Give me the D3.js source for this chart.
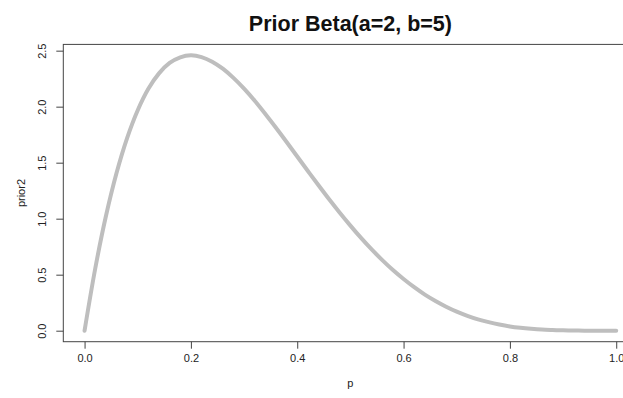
<!DOCTYPE html>
<html lang="en">
<head>
	<meta charset="UTF-8" />
	<script src="https://d3js.org/d3.v7.min.js"></script>
	<title>Prior Beta(a=2, b=5)</title>
	<style>
		body { margin: 0; background: #fff; }
		svg text { font-family: "Liberation Sans", Arial, Helvetica, sans-serif; fill: #222; }
	</style>
</head>
<body>
	<script>
		var w = 623;
		var h = 398;

		// p values and prior density
		var pValues = [0, 0.02, 0.04, 0.06, 0.08, 0.10, 0.12, 0.14, 0.16, 0.18,
			0.20, 0.22, 0.24, 0.26, 0.28, 0.30, 0.32, 0.34, 0.36, 0.38,
			0.40, 0.42, 0.44, 0.46, 0.48, 0.50, 0.52, 0.54, 0.56, 0.58,
			0.60, 0.62, 0.64, 0.66, 0.68, 0.70, 0.72, 0.74, 0.76, 0.78,
			0.80, 0.82, 0.84, 0.86, 0.88, 0.90, 0.92, 0.94, 0.96, 0.98, 1.00];
		var prior2 = [0, 0.553, 1.019, 1.405, 1.719, 1.968, 2.159, 2.297, 2.390, 2.441,
			2.458, 2.443, 2.402, 2.339, 2.257, 2.161, 2.053, 1.935, 1.812, 1.685,
			1.555, 1.426, 1.298, 1.173, 1.053, 0.938, 0.828, 0.725, 0.630, 0.541,
			0.461, 0.388, 0.322, 0.265, 0.214, 0.170, 0.133, 0.101, 0.076, 0.055,
			0.038, 0.026, 0.017, 0.010, 0.006, 0.003, 0.001, 0.0004, 0.0001, 0, 0];
		var xTicks = [0, 0.2, 0.4, 0.6, 0.8, 1.0];
		var yTicks = [0, 0.5, 1.0, 1.5, 2.0, 2.5];

		var plot = { left: 63.3, right: 637.5, top: 44.4, bottom: 341.7 };

		var x = d3.scaleLinear().domain([-0.04, 1.04]).range([plot.left, plot.right]);
		var y = d3.scaleLinear().domain([-0.0983, 2.5559]).range([plot.bottom, plot.top]);

		var svg = d3.select("body")
			.append("svg")
			.attr("width", w)
			.attr("height", h);

		// curve
		var line = d3.line()
			.x(function (d, i) { return x(pValues[i]); })
			.y(function (d) { return y(d); })
			.curve(d3.curveCatmullRom.alpha(0.5));

		svg.append("path")
			.datum(prior2)
			.attr("d", line)
			.attr("fill", "none")
			.attr("stroke", "#bebebe")
			.attr("stroke-width", 4)
			.attr("stroke-linecap", "round")
			.attr("stroke-linejoin", "round");

		// box (right side falls outside the picture)
		svg.append("rect")
			.attr("x", plot.left)
			.attr("y", plot.top)
			.attr("width", plot.right - plot.left)
			.attr("height", plot.bottom - plot.top)
			.attr("fill", "none")
			.attr("stroke", "#444")
			.attr("stroke-width", 1);

		// x axis
		var xAxis = d3.axisBottom(x)
			.tickValues(xTicks)
			.tickFormat(d3.format(".1f"))
			.tickSize(7)
			.tickPadding(6);

		var gx = svg.append("g")
			.attr("transform", "translate(0," + plot.bottom + ")")
			.call(xAxis);
		gx.select(".domain").remove();
		gx.selectAll("line").attr("stroke", "#444");
		gx.selectAll("text")
			.style("font-size", "11px")
			.attr("fill", "#222");

		// y axis, labels rotated like base R
		var yAxis = d3.axisLeft(y)
			.tickValues(yTicks)
			.tickFormat(d3.format(".1f"))
			.tickSize(7);

		var gy = svg.append("g")
			.attr("transform", "translate(" + plot.left + ",0)")
			.call(yAxis);
		gy.select(".domain").remove();
		gy.selectAll("line").attr("stroke", "#444");
		gy.selectAll("text")
			.attr("x", null)
			.attr("dy", null)
			.attr("transform", "translate(-17,0) rotate(-90)")
			.attr("text-anchor", "middle")
			.attr("y", 0)
			.style("font-size", "11px")
			.attr("fill", "#222");

		// title and axis labels
		svg.append("text")
			.attr("x", (plot.left + plot.right) / 2)
			.attr("y", 31)
			.attr("text-anchor", "middle")
			.style("font-size", "21.5px")
			.style("font-weight", "bold")
			.style("fill", "#111")
			.text("Prior Beta(a=2, b=5)");

		svg.append("text")
			.attr("x", (plot.left + plot.right) / 2)
			.attr("y", 387)
			.attr("text-anchor", "middle")
			.style("font-size", "11px")
			.text("p");

		svg.append("text")
			.attr("transform", "translate(25," + (plot.top + plot.bottom) / 2 + ") rotate(-90)")
			.attr("text-anchor", "middle")
			.style("font-size", "11px")
			.text("prior2");
	</script>
</body>
</html>
